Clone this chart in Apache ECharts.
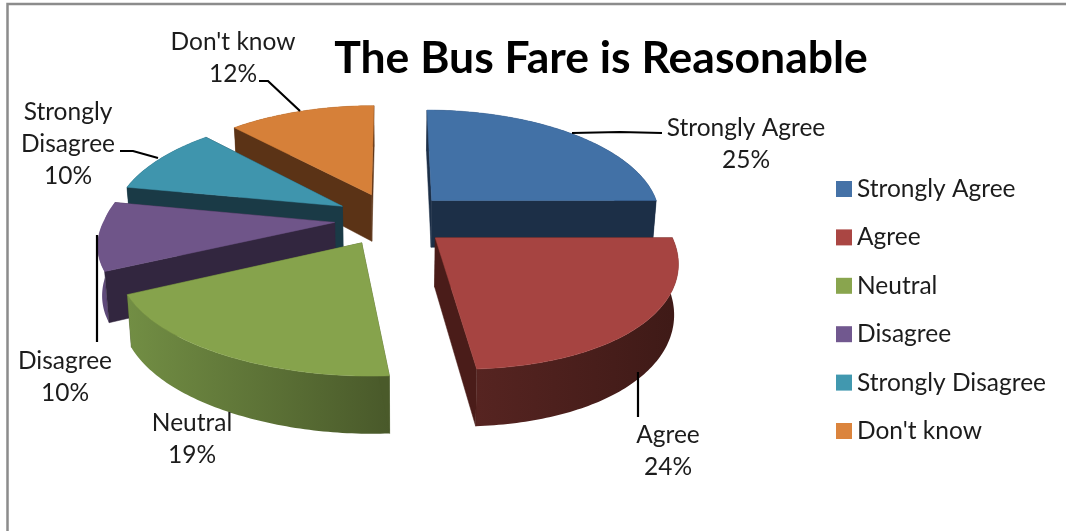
<!DOCTYPE html>
<html>
<head>
<meta charset="utf-8">
<style>html,body{margin:0;padding:0;background:#fff}#c{width:1066px;height:531px}</style>
<script src="https://cdn.jsdelivr.net/npm/echarts@6/dist/echarts.min.js"></script>
</head>
<body>
<div id="c"></div>
<script>
// ---- data ----
const titleText = 'The Bus Fare is Reasonable';
const categories = ['Strongly Agree', 'Agree', 'Neutral', 'Disagree', 'Strongly Disagree', "Don't know"];
const values = [25, 24, 19, 10, 10, 12];
const labelNames = ['Strongly Agree', 'Agree', 'Neutral', 'Disagree', 'Strongly\nDisagree', "Don't know"];

// ---- styles & layout ----
const topColors = ['#4271a6', '#a64441', '#86a34c', '#6f5589', '#3f95ad', '#d68039'];
const legendColors = ['#4572a7', '#aa4643', '#89a54e', '#71588f', '#4198af', '#db843d'];
const wallColors = ['#1c2f47', '#4a1c19', '#4a5a2a', '#32263f', '#1a3a46', '#5b3316'];
const arcStart = ['#1c2f47', '#3f1a17', '#49592a', '#5f4a7a', '#1a3a46', '#5b3316'];
const arcEnd = ['#1c2f47', '#562421', '#728e44', '#5f4a7a', '#1a3a46', '#5b3316'];
const drawOrder = [2, 5, 6, 4, 3, 1]; // z of each slice
const labelCenters = [[746, 144], [668, 451], [192, 439], [65, 377], [68, 144], [233, 58]];
const leaders = [
  [[572, 133], [620, 132], [662, 133]],
  [[638, 372], [638, 417]],
  [],
  [[97, 235], [97, 342]],
  [[158, 158], [133, 151], [120, 151]],
  [[300, 111], [268, 81], [259, 81]]
];
const G = { cx: 392, cy: 219, rx: 230, ry: 107.6, k: 0.138, explode: 0.25, depth: 48, baseX: 0.985, frontShear: 9, frontSpread: 0.04 };
const FONT = 'Lato';

const total = values.reduce((a, b) => a + b, 0);
const starts = values.map((_, i) => values.slice(0, i).reduce((a, b) => a + b, 0));

function project(X, Z, bottom) {
  const s = 1 / (1 - G.k * Z);
  const f = bottom ? G.baseX : 1;
  const zf = Math.max(0, Z);
  const shear = G.frontShear * Math.pow(zf, 3);
  const spread = 1 + G.frontSpread * zf;
  return [G.cx + G.rx * X * s * f * spread + shear, G.cy + G.ry * Z * s + (bottom ? G.depth * s : 0)];
}
function poly(points, color, z2) {
  return { type: 'polygon', z2, shape: { points }, style: { fill: color, stroke: color, lineWidth: 0.5 }, silent: true };
}
function renderSlice(i) {
  return function (params, api) {
    const v = api.value(0);
    const a0 = starts[i] / total * Math.PI * 2;
    const a1 = (starts[i] + v) / total * Math.PI * 2;
    const mid = (a0 + a1) / 2;
    const ox = Math.sin(mid) * G.explode, oz = -Math.cos(mid) * G.explode;
    const n = Math.max(16, Math.round((a1 - a0) * 60));
    const pts = [];
    for (let j = 0; j <= n; j++) {
      const a = a0 + (a1 - a0) * j / n;
      pts.push([ox + Math.sin(a), oz - Math.cos(a)]);
    }
    const apex = [ox, oz];
    const quad = (p, q) => [project(p[0], p[1]), project(q[0], q[1]), project(q[0], q[1], true), project(p[0], p[1], true)];
    // radial cut faces, far one first
    const radial = [
      { z: (apex[1] + pts[0][1]) / 2, pts: quad(apex, pts[0]) },
      { z: (apex[1] + pts[n][1]) / 2, pts: quad(apex, pts[n]) }
    ].sort((p, q) => p.z - q.z);
    // outer rim as one shape with a gradient along it
    const upper = pts.map(p => project(p[0], p[1]));
    const lower = pts.map(p => project(p[0], p[1], true)).reverse();
    const xs = upper[0][0], xe = upper[n][0];
    const rimFill = new echarts.graphic.LinearGradient(xs, 0, xe, 0, [
      { offset: 0, color: arcStart[i] }, { offset: 1, color: arcEnd[i] }
    ], true);
    const children = [
      poly(radial[0].pts, wallColors[i], 1),
      { type: 'polygon', z2: 2, silent: true, shape: { points: upper.concat(lower) }, style: { fill: rimFill } },
      poly(radial[1].pts, wallColors[i], 3)
    ];
    children.push(poly([project(apex[0], apex[1])].concat(upper), topColors[i], 4));
    return { type: 'group', children };
  };
}
function renderLabel(params, api) {
  const i = params.dataIndex;
  const children = [];
  if (leaders[i].length) {
    children.push({
      type: 'polyline', shape: { points: leaders[i] },
      style: { fill: 'none', stroke: '#000', lineWidth: 2.2 }, silent: true
    });
  }
  children.push({
    type: 'text', z2: 5, silent: true,
    style: {
      x: labelCenters[i][0], y: labelCenters[i][1],
      text: labelNames[i] + '\n' + api.value(0) + '%',
      fill: '#1c1c1c', font: '24.5px ' + FONT, lineHeight: 32,
      align: 'center', verticalAlign: 'middle'
    }
  });
  return { type: 'group', children };
}

const series = categories.map((name, i) => ({
  type: 'custom', name, coordinateSystem: 'none', z: drawOrder[i], silent: true,
  itemStyle: { color: legendColors[i] }, animation: false,
  renderItem: renderSlice(i), data: [[values[i]]]
}));
series.push({
  type: 'custom', name: 'labels', coordinateSystem: 'none', z: 20, silent: true, animation: false,
  renderItem: renderLabel, data: values.map(v => [v])
});

const chart = echarts.init(document.getElementById('c'), null, { renderer: 'canvas' });
chart.setOption({
  animation: false,
  backgroundColor: '#fff',
  title: {
    text: titleText, left: 601, top: 36, padding: 0, textAlign: 'center',
    textStyle: { fontFamily: FONT, fontWeight: 'bold', fontSize: 44.5, color: '#000' }
  },
  legend: {
    data: categories, orient: 'vertical', left: 836, top: 176, padding: 0, icon: 'rect',
    itemWidth: 16, itemHeight: 16, itemGap: 22.4, selectedMode: false,
    textStyle: { fontFamily: FONT, fontSize: 24.5, color: '#1c1c1c', lineHeight: 26 }
  },
  graphic: [{
    type: 'polyline', silent: true, z: 30,
    shape: { points: [[7.5, 531], [7.5, 4], [1066, 4]] },
    style: { fill: 'none', stroke: '#8c8c8c', lineWidth: 2.5 }
  }],
  series
});
</script>
</body>
</html>
